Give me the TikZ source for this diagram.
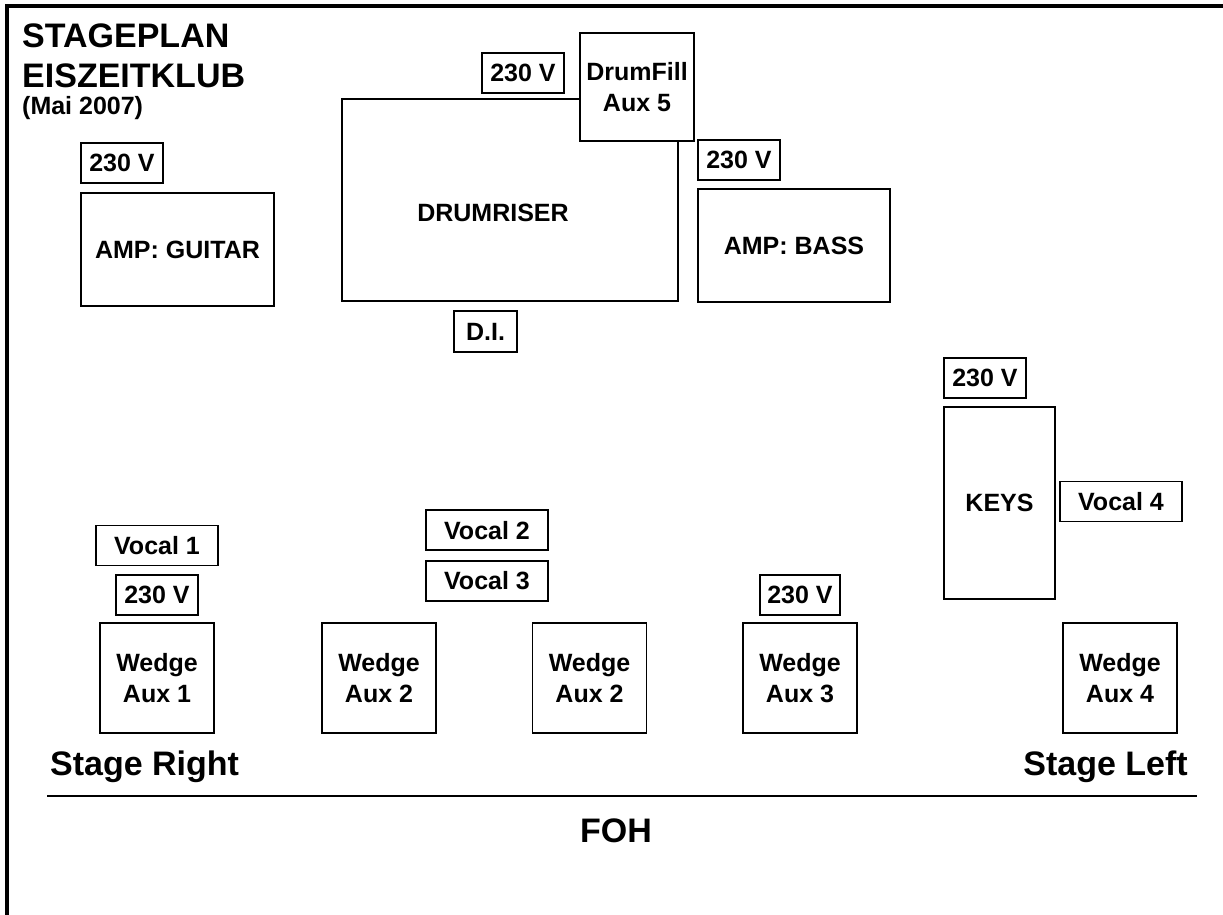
\documentclass[tikz,border=0pt]{standalone}
\usepackage{fontspec}
\setmainfont{Liberation Sans}
\usetikzlibrary{positioning}

\begin{document}
\begin{tikzpicture}[
    x=1pt, y=-1pt,
    node distance=6pt,
    box/.style={rectangle, draw=black, fill=white, line width=1.8pt, inner sep=0pt, align=center, font=\fontsize{25}{31}\selectfont\bfseries},
    power/.style={box, minimum width=82pt, minimum height=40pt},
    vocal/.style={box, minimum width=122pt, minimum height=40pt},
    amp/.style={box, minimum width=193pt, minimum height=113pt},
    wedge/.style={box, minimum width=114pt, minimum height=110pt},
    heading/.style={inner sep=0pt, font=\fontsize{34}{40}\selectfont\bfseries},
    border/.style={draw=black, line width=3.2pt},
    line/.style={draw=black, line width=1.8pt}
]
    \useasboundingbox (0,0) rectangle (1223,915);

    % Rahmen
    \draw[border] (7,915) -- (7,6) -- (1223,6);

    % Titel
    \node[heading, anchor=base west] (title) at (22,48) {STAGEPLAN};
    \node[heading, anchor=base west] (club) at (22,88) {EISZEITKLUB};
    \node[heading, anchor=base west, font=\fontsize{25}{28}\selectfont\bfseries] (date) at (22,115) {(Mai 2007)};

    % Backline
    \node[amp] (guitar) at (177.5,249.5) {AMP: GUITAR};
    \node[power] (gpow) at (122,163) {230 V};
    \node[box, minimum width=336pt, minimum height=202pt] (drums) at (510,200) {};
    \node[font=\fontsize{25}{31}\selectfont\bfseries] (drumtext) at ([xshift=-17pt, yshift=-13pt]drums.center) {DRUMRISER};
    \node[power] (dpow) at (523,73) {230 V};
    \node[box, minimum width=114pt, minimum height=108pt] (fill) at (637,87) {DrumFill\\Aux 5};
    \node[box, minimum width=63pt, minimum height=41pt] (di) at (485.5,331.5) {D.I.};
    \node[amp, minimum width=192pt] (bass) at (794,245.5) {AMP: BASS};
    \node[power, above=7pt of bass.north west, anchor=south west] (bpow) {230 V};
    \node[box, minimum width=111pt, minimum height=192pt] (keys) at (999.5,503) {KEYS};
    \node[power, above=7pt of keys.north west, anchor=south west] (kpow) {230 V};
    \node[vocal] (voc4) at (1121,501.5) {Vocal 4};

    % Monitore
    \node[wedge] (wedge1) at (157,678) {Wedge\\Aux 1};
    \node[power, above=of wedge1] (wpow1) {230 V};
    \node[vocal, above=8pt of wpow1] (voc1) {Vocal 1};
    \node[wedge] (wedge2a) at (379,678) {Wedge\\Aux 2};
    \node[wedge] (wedge2b) at (589.5,678) {Wedge\\Aux 2};
    \node[vocal] (voc3) at (487,581) {Vocal 3};
    \node[vocal, above=9pt of voc3] (voc2) {Vocal 2};
    \node[wedge] (wedge3) at (800,678) {Wedge\\Aux 3};
    \node[power, minimum width=80pt, above=of wedge3] (wpow3) {230 V};
    \node[wedge] (wedge4) at (1120,678) {Wedge\\Aux 4};

    % Buehnenrand
    \node[heading, anchor=base west] (right) at (50,775) {Stage Right};
    \node[heading, anchor=base east] (left) at (1188,775) {Stage Left};
    \draw[line] (47,796) -- (1197,796);
    \node[heading, anchor=base] (foh) at (616,842) {FOH};
\end{tikzpicture}
\end{document}
